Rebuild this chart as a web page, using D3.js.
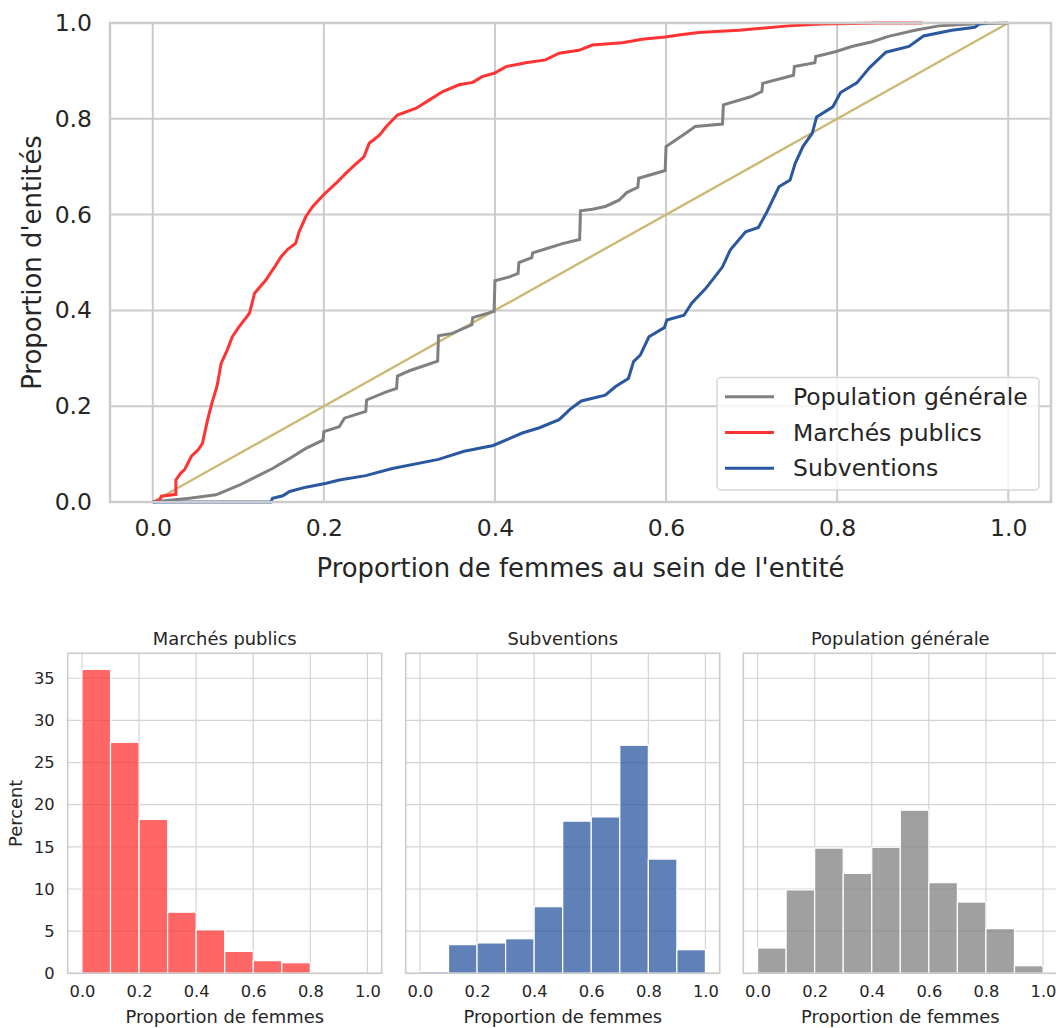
<!DOCTYPE html>
<html>
<head>
<meta charset="utf-8">
<script src="https://cdn.jsdelivr.net/npm/d3@7"></script>
<style>
  html, body { margin: 0; padding: 0; background: #ffffff; }
  svg { display: block; font-family: "DejaVu Sans", sans-serif; }
</style>
</head>
<body>
<svg id="chart" width="1056" height="1028"></svg>
<script>
// ---------------- DATA ----------------
const seriesNames = ["Population générale", "Marchés publics", "Subventions"];
const seriesColors = ["#808080", "#ff3333", "#2b57a0"];

// ECDF curves: [proportion de femmes, proportion d'entités]
const ecdfPopulation = [
  [0, 0], [0.043, 0.008], [0.074, 0.015], [0.101, 0.035], [0.121, 0.053], [0.140, 0.070],
  [0.160, 0.091], [0.179, 0.112], [0.199, 0.129], [0.200, 0.147], [0.218, 0.157], [0.224, 0.175],
  [0.249, 0.189], [0.250, 0.213], [0.273, 0.230], [0.285, 0.237], [0.286, 0.263], [0.300, 0.274],
  [0.333, 0.294], [0.334, 0.347], [0.350, 0.352], [0.364, 0.363], [0.373, 0.370], [0.374, 0.385],
  [0.399, 0.398], [0.400, 0.462], [0.417, 0.470], [0.427, 0.477], [0.428, 0.500], [0.443, 0.510],
  [0.444, 0.520], [0.455, 0.526], [0.480, 0.540], [0.499, 0.548], [0.500, 0.608], [0.514, 0.611],
  [0.529, 0.617], [0.545, 0.630], [0.554, 0.646], [0.567, 0.657], [0.568, 0.676], [0.599, 0.692],
  [0.600, 0.742], [0.623, 0.770], [0.634, 0.784], [0.666, 0.789], [0.667, 0.829], [0.699, 0.846],
  [0.712, 0.857], [0.713, 0.874], [0.749, 0.891], [0.750, 0.909], [0.774, 0.917], [0.775, 0.930],
  [0.798, 0.940], [0.817, 0.951], [0.841, 0.961], [0.860, 0.972], [0.891, 0.985], [0.919, 0.994],
  [0.957, 0.998], [1.0, 1.0]
];
const ecdfMarches = [
  [0, 0], [0.008, 0.004], [0.010, 0.012], [0.027, 0.016], [0.027, 0.046], [0.033, 0.061],
  [0.037, 0.067], [0.045, 0.095], [0.053, 0.109], [0.058, 0.122], [0.064, 0.171], [0.069, 0.206],
  [0.075, 0.241], [0.080, 0.290], [0.087, 0.317], [0.093, 0.345], [0.101, 0.366], [0.113, 0.394],
  [0.119, 0.436], [0.132, 0.463], [0.144, 0.495], [0.150, 0.512], [0.158, 0.528], [0.167, 0.540],
  [0.171, 0.564], [0.179, 0.596], [0.187, 0.617], [0.200, 0.642], [0.214, 0.665], [0.225, 0.685],
  [0.234, 0.700], [0.247, 0.721], [0.253, 0.749], [0.265, 0.766], [0.273, 0.784], [0.286, 0.808],
  [0.308, 0.822], [0.323, 0.839], [0.339, 0.857], [0.358, 0.871], [0.374, 0.876], [0.385, 0.888],
  [0.399, 0.895], [0.413, 0.909], [0.436, 0.917], [0.459, 0.923], [0.475, 0.937], [0.498, 0.943],
  [0.514, 0.954], [0.549, 0.959], [0.572, 0.966], [0.599, 0.971], [0.615, 0.975], [0.638, 0.980],
  [0.685, 0.985], [0.743, 0.994], [0.782, 0.998], [0.850, 1.0], [0.900, 1.0]
];
const ecdfSubventions = [
  [0, 0], [0.138, 0.0], [0.140, 0.008], [0.152, 0.013], [0.160, 0.022], [0.179, 0.031],
  [0.203, 0.039], [0.218, 0.046], [0.249, 0.055], [0.280, 0.070], [0.334, 0.089], [0.364, 0.106],
  [0.398, 0.118], [0.432, 0.144], [0.452, 0.155], [0.475, 0.172], [0.488, 0.194], [0.501, 0.211],
  [0.529, 0.223], [0.541, 0.241], [0.556, 0.258], [0.562, 0.293], [0.570, 0.307], [0.580, 0.345],
  [0.598, 0.364], [0.601, 0.380], [0.621, 0.390], [0.630, 0.415], [0.646, 0.445], [0.657, 0.470],
  [0.666, 0.491], [0.675, 0.526], [0.693, 0.564], [0.708, 0.573], [0.718, 0.606], [0.732, 0.658],
  [0.745, 0.672], [0.751, 0.707], [0.760, 0.742], [0.771, 0.770], [0.776, 0.804], [0.795, 0.825],
  [0.804, 0.855], [0.823, 0.875], [0.838, 0.907], [0.857, 0.939], [0.884, 0.951], [0.901, 0.973],
  [0.934, 0.985], [0.961, 0.991], [0.966, 0.998], [0.975, 1.0]
];
const diagonal = [[0, 0], [1, 1]];

// Histograms (Percent per bin of width 0.1)
const binEdges = [0, 0.1, 0.2, 0.3, 0.4, 0.5, 0.6, 0.7, 0.8, 0.9, 1.0];
const histMarches = [36.05, 27.4, 18.25, 7.25, 5.15, 2.6, 1.5, 1.25, 0, 0];
const histSubventions = [0.2, 3.4, 3.6, 4.1, 7.9, 18.05, 18.55, 27.05, 13.55, 2.8];
const histPopulation = [3.0, 9.9, 14.85, 11.85, 14.95, 19.35, 10.75, 8.45, 5.3, 0.9];
const histTitles = ["Marchés publics", "Subventions", "Population générale"];
const histColors = ["#ff3333", "#2b57a0", "#808080"];

const topXTicks = [0, 0.2, 0.4, 0.6, 0.8, 1.0];
const topYTicks = [0, 0.2, 0.4, 0.6, 0.8, 1.0];
const histXTicks = [0, 0.2, 0.4, 0.6, 0.8, 1.0];
const histYTicks = [0, 5, 10, 15, 20, 25, 30, 35];

// ---------------- DRAW ----------------
const svg = d3.select("#chart");
const textColor = "#262626";
const gridColor = "#cccccc";

// ---- Top ECDF chart ----
const T = { left: 110, right: 1051, top: 23, bottom: 502 };
const x = d3.scaleLinear().domain([-0.05, 1.05]).range([T.left, T.right]);
const y = d3.scaleLinear().domain([0, 1]).range([T.bottom, T.top]);

const topG = svg.append("g");
// grid
topG.append("g").selectAll("line").data(topXTicks).join("line")
  .attr("x1", d => x(d)).attr("x2", d => x(d)).attr("y1", T.top).attr("y2", T.bottom)
  .attr("stroke", gridColor).attr("stroke-width", 2);
topG.append("g").selectAll("line").data(topYTicks).join("line")
  .attr("y1", d => y(d)).attr("y2", d => y(d)).attr("x1", T.left).attr("x2", T.right)
  .attr("stroke", gridColor).attr("stroke-width", 2);

// axes (labels only, no tick marks)
const xAxisTop = d3.axisBottom(x).tickValues(topXTicks).tickFormat(d3.format(".1f")).tickSize(0).tickPadding(17);
const gx = topG.append("g").attr("transform", `translate(0,${T.bottom})`).call(xAxisTop);
gx.select(".domain").remove();
gx.selectAll("text").attr("font-size", 23.5).attr("fill", textColor).attr("font-family", "DejaVu Sans");

const yAxisTop = d3.axisLeft(y).tickValues(topYTicks).tickFormat(d3.format(".1f")).tickSize(0).tickPadding(18);
const gy = topG.append("g").attr("transform", `translate(${T.left},0)`).call(yAxisTop);
gy.select(".domain").remove();
gy.selectAll("text").attr("font-size", 23.5).attr("fill", textColor).attr("font-family", "DejaVu Sans");

// lines
const line = d3.line().x(d => x(d[0])).y(d => y(d[1]));
topG.append("path").datum(diagonal).attr("d", line)
  .attr("fill", "none").attr("stroke", "#ccb974").attr("stroke-width", 2.4);
const curves = [ecdfPopulation, ecdfMarches, ecdfSubventions];
curves.forEach((c, i) => {
  topG.append("path").datum(c).attr("d", line)
    .attr("fill", "none").attr("stroke", seriesColors[i]).attr("stroke-width", 3)
    .attr("stroke-linejoin", "miter");
});

// frame
topG.append("rect").attr("x", T.left).attr("y", T.top)
  .attr("width", T.right - T.left).attr("height", T.bottom - T.top)
  .attr("fill", "none").attr("stroke", gridColor).attr("stroke-width", 2.5);

// axis labels
topG.append("text").attr("x", (x(-0.05) + x(1.05)) / 2).attr("y", 577)
  .attr("text-anchor", "middle").attr("font-size", 25.9).attr("fill", textColor)
  .text("Proportion de femmes au sein de l'entité");
topG.append("text").attr("transform", `translate(41,${(T.top + T.bottom) / 2}) rotate(-90)`)
  .attr("text-anchor", "middle").attr("font-size", 25.9).attr("fill", textColor)
  .text("Proportion d'entités");

// legend
const lg = topG.append("g");
lg.append("rect").attr("x", 717).attr("y", 377.5).attr("width", 322).attr("height", 112.5)
  .attr("rx", 4).attr("fill", "#ffffff").attr("fill-opacity", 0.8)
  .attr("stroke", "#d6d6d6").attr("stroke-width", 1.5);
seriesNames.forEach((name, i) => {
  const cy = 396.7 + i * 35.8;
  lg.append("line").attr("x1", 725).attr("x2", 774).attr("y1", cy).attr("y2", cy)
    .attr("stroke", seriesColors[i]).attr("stroke-width", 3);
  lg.append("text").attr("x", 793).attr("y", cy).attr("dominant-baseline", "central")
    .attr("font-size", 23.5).attr("fill", textColor).text(name);
});

// ---- Bottom histograms ----
const H = { top: 653.3, bottom: 973.3, width: 314 };
const panelLefts = [67.7, 405.7, 743.3];
const hy = d3.scaleLinear().domain([0, 37.96]).range([H.bottom, H.top]);
const hists = [histMarches, histSubventions, histPopulation];

hists.forEach((vals, p) => {
  const L = panelLefts[p];
  const hx = d3.scaleLinear().domain([-0.05, 1.05]).range([L, L + H.width]);
  const g = svg.append("g");
  // grid
  g.append("g").selectAll("line").data(histXTicks).join("line")
    .attr("x1", d => hx(d)).attr("x2", d => hx(d)).attr("y1", H.top).attr("y2", H.bottom)
    .attr("stroke", "#d4d4d4").attr("stroke-width", 1.2);
  g.append("g").selectAll("line").data(histYTicks).join("line")
    .attr("y1", d => hy(d)).attr("y2", d => hy(d)).attr("x1", L).attr("x2", L + H.width)
    .attr("stroke", "#d4d4d4").attr("stroke-width", 1.2);
  // bars
  const bins = vals.map((v, i) => ({ x0: binEdges[i], x1: binEdges[i + 1], v }));
  g.append("g").selectAll("rect").data(bins.filter(b => b.v > 0)).join("rect")
    .attr("x", d => hx(d.x0)).attr("width", d => hx(d.x1) - hx(d.x0))
    .attr("y", d => hy(d.v)).attr("height", d => hy(0) - hy(d.v))
    .attr("fill", histColors[p]).attr("fill-opacity", 0.75)
    .attr("stroke", "#ffffff").attr("stroke-width", 1.2);
  // frame
  g.append("rect").attr("x", L).attr("y", H.top).attr("width", H.width).attr("height", H.bottom - H.top)
    .attr("fill", "none").attr("stroke", gridColor).attr("stroke-width", 1.6);
  // x axis
  const ax = g.append("g").attr("transform", `translate(0,${H.bottom})`)
    .call(d3.axisBottom(hx).tickValues(histXTicks).tickFormat(d3.format(".1f")).tickSize(0).tickPadding(12));
  ax.select(".domain").remove();
  ax.selectAll("text").attr("font-size", 16.3).attr("fill", textColor).attr("font-family", "DejaVu Sans");
  // y axis only on first panel
  if (p === 0) {
    const ay = g.append("g").attr("transform", `translate(${L},0)`)
      .call(d3.axisLeft(hy).tickValues(histYTicks).tickFormat(d3.format("d")).tickSize(0).tickPadding(13));
    ay.select(".domain").remove();
    ay.selectAll("text").attr("font-size", 16.3).attr("fill", textColor).attr("font-family", "DejaVu Sans");
    g.append("text").attr("transform", `translate(21.5,${(H.top + H.bottom) / 2}) rotate(-90)`)
      .attr("text-anchor", "middle").attr("font-size", 17.9).attr("fill", textColor).text("Percent");
  }
  // title & xlabel
  g.append("text").attr("x", L + H.width / 2).attr("y", 645).attr("text-anchor", "middle")
    .attr("font-size", 17.9).attr("fill", textColor).text(histTitles[p]);
  g.append("text").attr("x", L + H.width / 2).attr("y", 1023).attr("text-anchor", "middle")
    .attr("font-size", 17.9).attr("fill", textColor).text("Proportion de femmes");
});
</script>
</body>
</html>
